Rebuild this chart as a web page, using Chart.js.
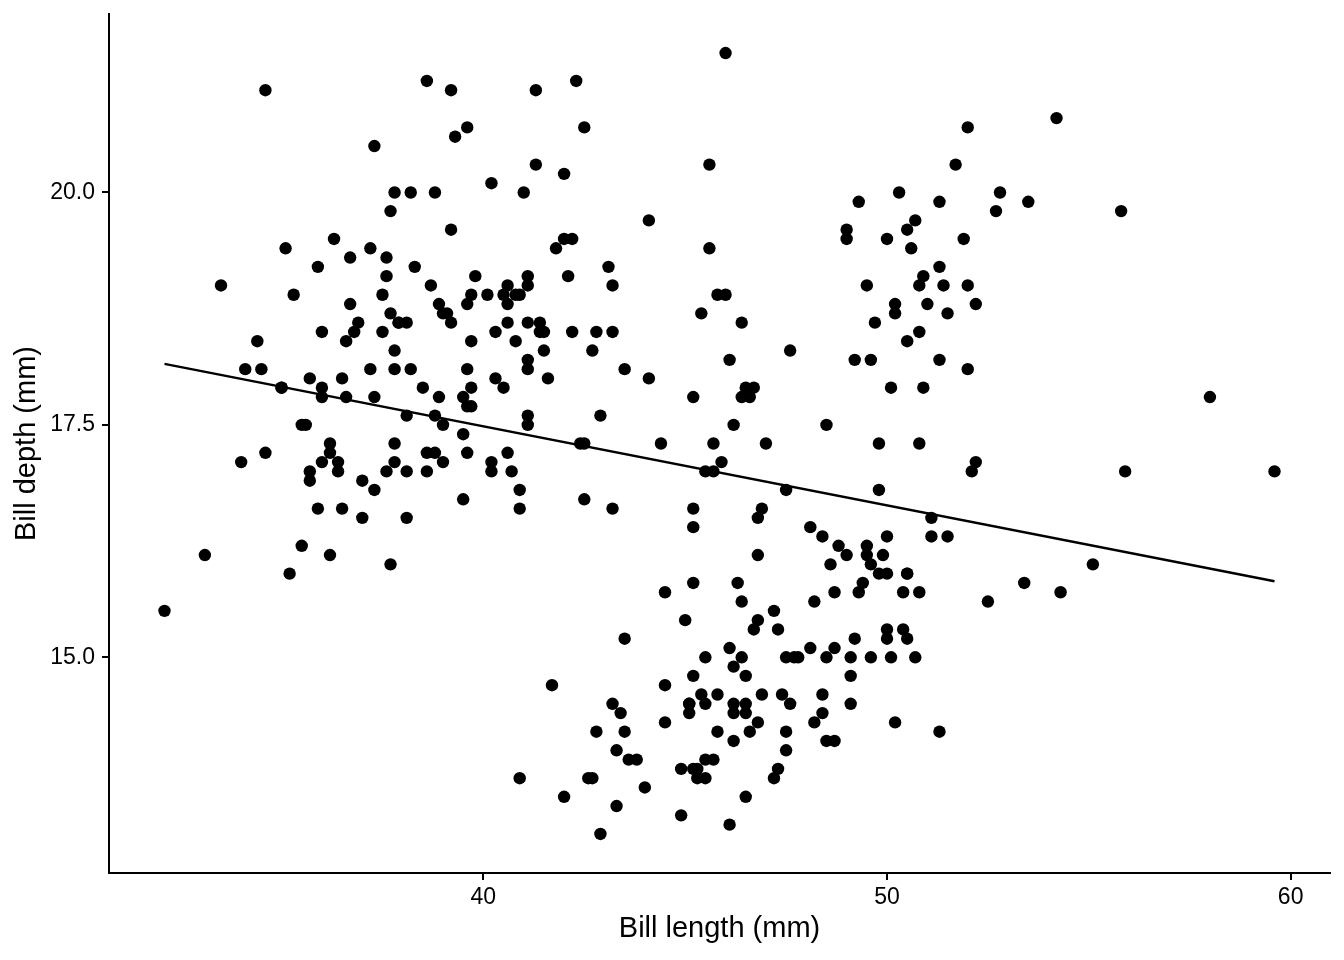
<!DOCTYPE html>
<html>
<head>
<meta charset="utf-8">
<script src="https://cdn.jsdelivr.net/npm/chart.js@4"></script>
<style>
  body { margin: 0; background: #fff; }
  #wrap { width: 1344px; height: 960px; }
</style>
</head>
<body>
<div id="wrap"><canvas id="myChart" width="1344" height="960"></canvas></div>
<script>
// bill length / bill depth, grouped by species cluster
var adelieLength = [39.1,39.5,40.3,36.7,39.3,38.9,39.2,34.1,42.0,37.8,37.8,41.1,38.6,34.6,36.6,38.7,42.5,34.4,46.0,37.8,
  37.7,35.9,38.2,38.8,35.3,40.6,40.5,37.9,40.5,39.5,37.2,39.5,40.9,36.4,39.2,38.8,42.2,37.6,39.8,36.5,
  40.8,36.0,44.1,37.0,39.6,41.1,37.5,36.0,42.3,39.6,40.1,35.0,42.0,34.5,41.4,39.0,40.6,36.5,37.6,35.7,
  41.3,37.6,41.1,36.4,41.6,35.5,41.1,35.9,41.8,33.5,39.7,39.6,45.8,35.5,42.8,40.9,37.2,36.2,42.1,34.6,
  42.9,36.7,35.1,37.3,41.3,36.3,36.9,38.3,38.9,35.7,41.1,34.0,39.6,36.2,40.8,38.1,40.3,33.1,43.2,35.0,
  41.0,37.7,37.8,37.9,39.7,38.6,38.2,38.1,43.2,38.1,45.6,39.7,42.2,39.6,42.7,38.6,37.3,35.7,41.1,36.2,
  37.7,40.2,41.4,35.2,40.6,38.8,41.5,39.0,44.1,38.5,43.1,36.8,37.5,38.1,41.1,35.6,40.2,37.0,39.7,40.2,
  40.6,32.1,40.7,37.3,39.0,39.2,36.6,36.0,37.8,36.0,41.5];
var adelieDepth = [18.7,17.4,18.0,19.3,20.6,17.8,19.6,18.1,20.2,17.1,17.3,17.6,21.2,21.1,17.8,19.0,20.7,18.4,21.5,18.3,
  18.7,19.2,18.1,17.2,18.9,18.6,17.9,18.6,18.9,16.7,18.1,17.8,18.9,17.0,21.1,20.0,18.5,19.3,19.1,18.0,
  18.4,18.5,19.7,16.9,18.8,19.0,18.9,17.9,21.2,17.7,18.9,17.9,19.5,18.1,18.6,17.5,18.8,16.6,19.1,16.9,
  21.1,17.0,18.2,17.1,18.0,16.2,19.1,16.6,19.4,19.0,18.4,17.2,18.9,17.5,18.5,16.8,19.4,16.1,19.1,17.2,
  17.6,18.8,19.4,17.8,20.3,19.5,18.6,19.2,18.8,18.0,18.1,17.1,18.1,17.3,18.9,18.6,18.5,16.1,18.5,17.9,
  20.0,16.0,20.0,18.6,18.9,17.2,20.0,17.0,19.0,16.5,20.3,17.7,19.5,20.7,18.3,17.0,20.5,17.0,18.6,17.2,
  19.8,17.0,18.5,15.9,19.0,17.6,18.3,17.1,18.0,17.9,19.2,18.5,18.5,17.6,17.5,17.5,20.1,16.5,17.9,17.1,
  17.2,15.5,17.0,16.8,18.7,18.6,18.4,17.8,18.1,17.1,18.5];

var gentooLength = [46.1,50.0,48.7,50.0,47.6,46.5,45.4,46.7,43.3,46.8,40.9,49.0,45.5,48.4,45.8,49.3,42.0,49.2,46.2,48.7,
  50.2,45.1,46.5,46.3,42.9,46.1,44.5,47.8,48.2,50.0,47.3,42.8,45.1,59.6,49.1,48.4,42.6,44.4,44.0,48.7,
  42.7,49.6,45.3,49.6,50.5,43.6,45.5,50.5,44.9,45.2,46.6,48.5,45.1,50.1,46.5,45.0,43.8,45.5,43.2,50.4,
  45.3,46.2,45.7,54.3,45.8,49.8,46.2,49.5,43.5,50.7,47.7,46.4,48.2,46.5,46.4,48.6,47.5,51.1,45.2,45.2,
  49.1,52.5,47.4,50.0,44.9,50.8,43.4,51.3,47.5,52.1,47.5,52.2,45.5,49.5,44.5,50.8,49.4,46.9,48.4,51.1,
  48.5,55.9,47.2,49.1,47.3,46.8,41.7,53.4,43.3,48.1,50.5,49.8,43.5,51.5,46.2,55.1,44.5,48.8,47.2,46.8,
  50.4,45.2,49.9];
var gentooDepth = [13.2,16.3,14.1,15.2,14.5,13.5,14.6,15.3,13.4,15.4,13.7,16.1,13.7,14.6,14.6,15.7,13.5,15.2,14.5,15.1,
  14.3,14.5,14.5,15.8,13.1,15.1,14.3,15.0,14.3,15.3,15.3,14.2,14.5,17.0,14.8,16.3,13.7,17.3,13.6,15.7,
  13.7,16.0,13.7,15.0,15.9,13.9,13.9,15.9,13.3,15.8,14.2,14.1,14.4,15.0,14.4,15.4,13.9,15.0,14.5,15.3,
  13.8,14.9,13.9,15.7,14.2,16.8,14.4,16.2,14.2,15.0,15.0,15.6,15.6,14.8,15.0,16.0,14.2,16.3,13.8,16.4,
  14.5,15.6,14.6,15.9,13.8,17.3,14.4,14.2,14.0,17.0,15.0,17.1,14.5,16.1,14.7,15.7,15.8,14.6,14.4,16.5,
  15.0,17.0,15.5,15.0,13.8,16.1,14.7,15.8,14.0,15.1,15.2,15.9,15.2,16.3,14.1,16.0,15.7,16.2,13.7,14.3,
  15.7,14.8,16.1];

var chinstrapLength = [46.5,50.0,51.3,45.4,52.7,45.2,46.1,51.3,46.0,51.3,46.6,51.7,47.0,52.0,45.9,50.5,50.3,58.0,46.4,49.2,
  42.4,48.5,43.2,50.6,46.7,52.0,50.5,49.5,46.4,52.8,40.9,54.2,42.5,51.0,49.7,47.5,47.6,52.0,46.9,53.5,
  49.0,46.2,50.9,45.5,50.9,50.8,50.1,49.0,51.5,49.8,48.1,51.4,45.7,50.7,42.5,52.2,45.2,49.3,50.2,45.6,
  51.9,46.8,45.7,55.8,43.5,49.6,50.8,50.2];
var chinstrapDepth = [17.9,19.5,19.2,18.7,19.8,17.8,18.2,18.2,18.9,19.9,17.8,20.3,17.3,18.1,17.1,19.6,20.0,17.8,18.6,18.2,
  17.3,17.5,16.6,19.4,17.9,19.0,18.4,19.0,17.8,20.0,16.6,20.8,16.7,18.8,18.6,16.8,18.3,20.7,16.6,19.9,
  19.5,17.5,19.1,17.0,17.9,18.5,17.9,19.6,18.7,17.3,16.4,19.0,17.3,19.7,17.3,18.8,16.6,19.9,18.8,19.4,
  19.5,16.5,17.0,19.8,18.1,18.2,19.0,18.7];

var xTicks = [40, 50, 60];
var yTicks = [15.0, 17.5, 20.0];

var punti = [];
function aggiungi(lens, deps) {
  for (var i = 0; i < lens.length; i++) {
    punti.push({ x: lens[i], y: deps[i] });
  }
}
aggiungi(adelieLength, adelieDepth);
aggiungi(gentooLength, gentooDepth);
aggiungi(chinstrapLength, chinstrapDepth);

// least squares fit over all points (like geom_smooth(method = "lm"))
var sx = 0, sy = 0, sxx = 0, sxy = 0, n = punti.length;
var xmin = Infinity, xmax = -Infinity, ymin = Infinity, ymax = -Infinity;
for (var i = 0; i < n; i++) {
  var p = punti[i];
  sx += p.x; sy += p.y; sxx += p.x * p.x; sxy += p.x * p.y;
  xmin = Math.min(xmin, p.x); xmax = Math.max(xmax, p.x);
  ymin = Math.min(ymin, p.y); ymax = Math.max(ymax, p.y);
}
var slope = (n * sxy - sx * sy) / (n * sxx - sx * sx);
var intercept = (sy - slope * sx) / n;
var fitLine = [
  { x: xmin, y: intercept + slope * xmin },
  { x: xmax, y: intercept + slope * xmax }
];

// ggplot style 5% expansion
var xPad = (xmax - xmin) * 0.05;
var yPad = (ymax - ymin) * 0.05;

var ctx = document.getElementById('myChart').getContext('2d');
var myChart = new Chart(ctx, {
  type: 'scatter',
  data: {
    datasets: [{
      type: 'line',
      data: fitLine,
      borderColor: '#000',
      borderWidth: 2.5,
      pointRadius: 0,
      fill: false
    }, {
      data: punti,
      backgroundColor: '#000',
      borderWidth: 0,
      pointRadius: 6.2,
      pointHoverRadius: 6.2
    }]
  },
  options: {
    responsive: false,
    devicePixelRatio: 1,
    animation: false,
    events: [],
    layout: { padding: { top: 14, right: 14, left: 0, bottom: 0 } },
    plugins: { legend: { display: false }, tooltip: { enabled: false } },
    scales: {
      x: {
        type: 'linear',
        min: xmin - xPad,
        max: xmax + xPad,
        afterFit: function (scale) {
          scale.height = 87;
          scale.paddingLeft = 0; scale.paddingRight = 0;
        },
        afterBuildTicks: function (scale) {
          scale.ticks = xTicks.map(function (v) { return { value: v }; });
        },
        ticks: {
          color: '#000',
          font: { family: 'Liberation Sans', size: 23 },
          padding: 4,
          callback: function (v) { return v; }
        },
        grid: { drawOnChartArea: false, drawTicks: true, tickLength: 7, color: '#000', lineWidth: 2 },
        border: { display: true, color: '#000', width: 2 },
        title: {
          display: true,
          text: 'Bill length (mm)',
          color: '#000',
          font: { family: 'Liberation Sans', size: 29 },
          padding: { top: 0, bottom: 14 }
        }
      },
      y: {
        type: 'linear',
        min: ymin - yPad,
        max: ymax + yPad,
        afterFit: function (scale) {
          scale.width = 109;
          scale.paddingTop = 0; scale.paddingBottom = 0;
        },
        afterBuildTicks: function (scale) {
          scale.ticks = yTicks.map(function (v) { return { value: v }; });
        },
        ticks: {
          color: '#000',
          font: { family: 'Liberation Sans', size: 23 },
          padding: 7,
          callback: function (v) { return Number(v).toFixed(1); }
        },
        grid: { drawOnChartArea: false, drawTicks: true, tickLength: 7, color: '#000', lineWidth: 2 },
        border: { display: true, color: '#000', width: 2 },
        title: {
          display: true,
          text: 'Bill depth (mm)',
          color: '#000',
          font: { family: 'Liberation Sans', size: 29 },
          padding: { top: 10, bottom: 0 }
        }
      }
    }
  }
});
</script>
</body>
</html>
